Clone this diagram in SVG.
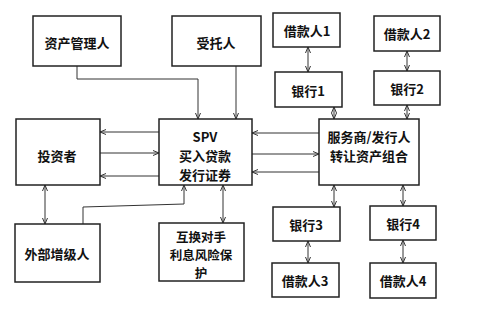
<svg xmlns="http://www.w3.org/2000/svg" width="486" height="314" viewBox="0 0 486 314">
<style>
.box{fill:#fff;stroke:#222;stroke-width:1.5}
.t{font-family:"Noto Sans CJK SC","Noto Sans",sans-serif;font-size:13px;font-weight:bold;fill:#111;text-anchor:middle;dominant-baseline:central}
.s{font-size:12.5px}
.c{fill:none;stroke:#333;stroke-width:1}
</style>
<defs>
<marker id="a" markerWidth="7" markerHeight="6" refX="6" refY="3" orient="auto-start-reverse" markerUnits="userSpaceOnUse">
<path d="M0,0.5 L6,3 L0,5.5" fill="none" stroke="#333" stroke-width="1"/>
</marker>
</defs>
<rect width="486" height="314" fill="#fff"/>
<g id="connectors">
<path class="c" d="M77,66 V79 H198 V119" marker-end="url(#a)"/>
<path class="c" d="M236,66 V119" marker-end="url(#a)"/>
<path class="c" d="M159,132 H100" marker-end="url(#a)"/>
<path class="c" d="M100,153 H159" marker-end="url(#a)"/>
<path class="c" d="M159,176 H100" marker-end="url(#a)"/>
<path class="c" d="M319,133 H252" marker-end="url(#a)"/>
<path class="c" d="M252,154 H319" marker-end="url(#a)"/>
<path class="c" d="M319,172 H252" marker-end="url(#a)"/>
<path class="c" d="M45,185 V224" marker-start="url(#a)" marker-end="url(#a)"/>
<path class="c" d="M83,224 V207 L184,204 V185" marker-end="url(#a)"/>
<path class="c" d="M223,185 V223" marker-start="url(#a)" marker-end="url(#a)"/>
<path class="c" d="M308,47 V72" marker-start="url(#a)" marker-end="url(#a)"/>
<path class="c" d="M334,107 V119" marker-start="url(#a)" marker-end="url(#a)"/>
<path class="c" d="M407,51 V71" marker-start="url(#a)" marker-end="url(#a)"/>
<path class="c" d="M407,105 V119" marker-start="url(#a)" marker-end="url(#a)"/>
<path class="c" d="M334,185 V207" marker-start="url(#a)" marker-end="url(#a)"/>
<path class="c" d="M308,241 V263" marker-start="url(#a)" marker-end="url(#a)"/>
<path class="c" d="M403,185 V206" marker-start="url(#a)" marker-end="url(#a)"/>
<path class="c" d="M403,240 V263" marker-start="url(#a)" marker-end="url(#a)"/>
</g>
<g id="asset-manager"><rect class="box" x="33" y="16" width="88" height="50"/><text class="t" x="77" y="42">资产管理人</text></g>
<g id="trustee"><rect class="box" x="172" y="16" width="89" height="50"/><text class="t" x="216" y="42">受托人</text></g>
<g id="investor"><rect class="box" x="16" y="119" width="84" height="66"/><text class="t" x="57" y="155">投资者</text></g>
<g id="spv"><rect class="box" x="159" y="119" width="93" height="66"/>
<text class="t" x="205" y="136">SPV</text><text class="t" x="205" y="155">买入贷款</text><text class="t" x="205" y="174">发行证券</text></g>
<g id="servicer"><rect class="box" x="319" y="119" width="100" height="66"/>
<text class="t" x="369" y="136">服务商/发行人</text><text class="t" x="369" y="155">转让资产组合</text></g>
<g id="enhancer"><rect class="box" x="15" y="224" width="85" height="58"/><text class="t" x="57" y="253">外部增级人</text></g>
<g id="swap"><rect class="box" x="159" y="223" width="85" height="58"/>
<text class="t s" x="201" y="236">互换对手</text><text class="t s" x="201" y="254">利息风险保</text><text class="t s" x="201" y="272">护</text></g>
<g id="borrower1"><rect class="box" x="273" y="13" width="67" height="34"/><text class="t" x="307" y="30">借款人1</text></g>
<g id="bank1"><rect class="box" x="275" y="72" width="67" height="35"/><text class="t" x="308" y="90">银行1</text></g>
<g id="borrower2"><rect class="box" x="374" y="16" width="66" height="35"/><text class="t" x="407" y="33">借款人2</text></g>
<g id="bank2"><rect class="box" x="374" y="71" width="66" height="34"/><text class="t" x="407" y="88">银行2</text></g>
<g id="bank3"><rect class="box" x="273" y="207" width="67" height="34"/><text class="t" x="306" y="224">银行3</text></g>
<g id="borrower3"><rect class="box" x="272" y="263" width="67" height="34"/><text class="t" x="305" y="280">借款人3</text></g>
<g id="bank4"><rect class="box" x="370" y="206" width="66" height="34"/><text class="t" x="403" y="223">银行4</text></g>
<g id="borrower4"><rect class="box" x="370" y="263" width="66" height="35"/><text class="t" x="403" y="280">借款人4</text></g>
</svg>
